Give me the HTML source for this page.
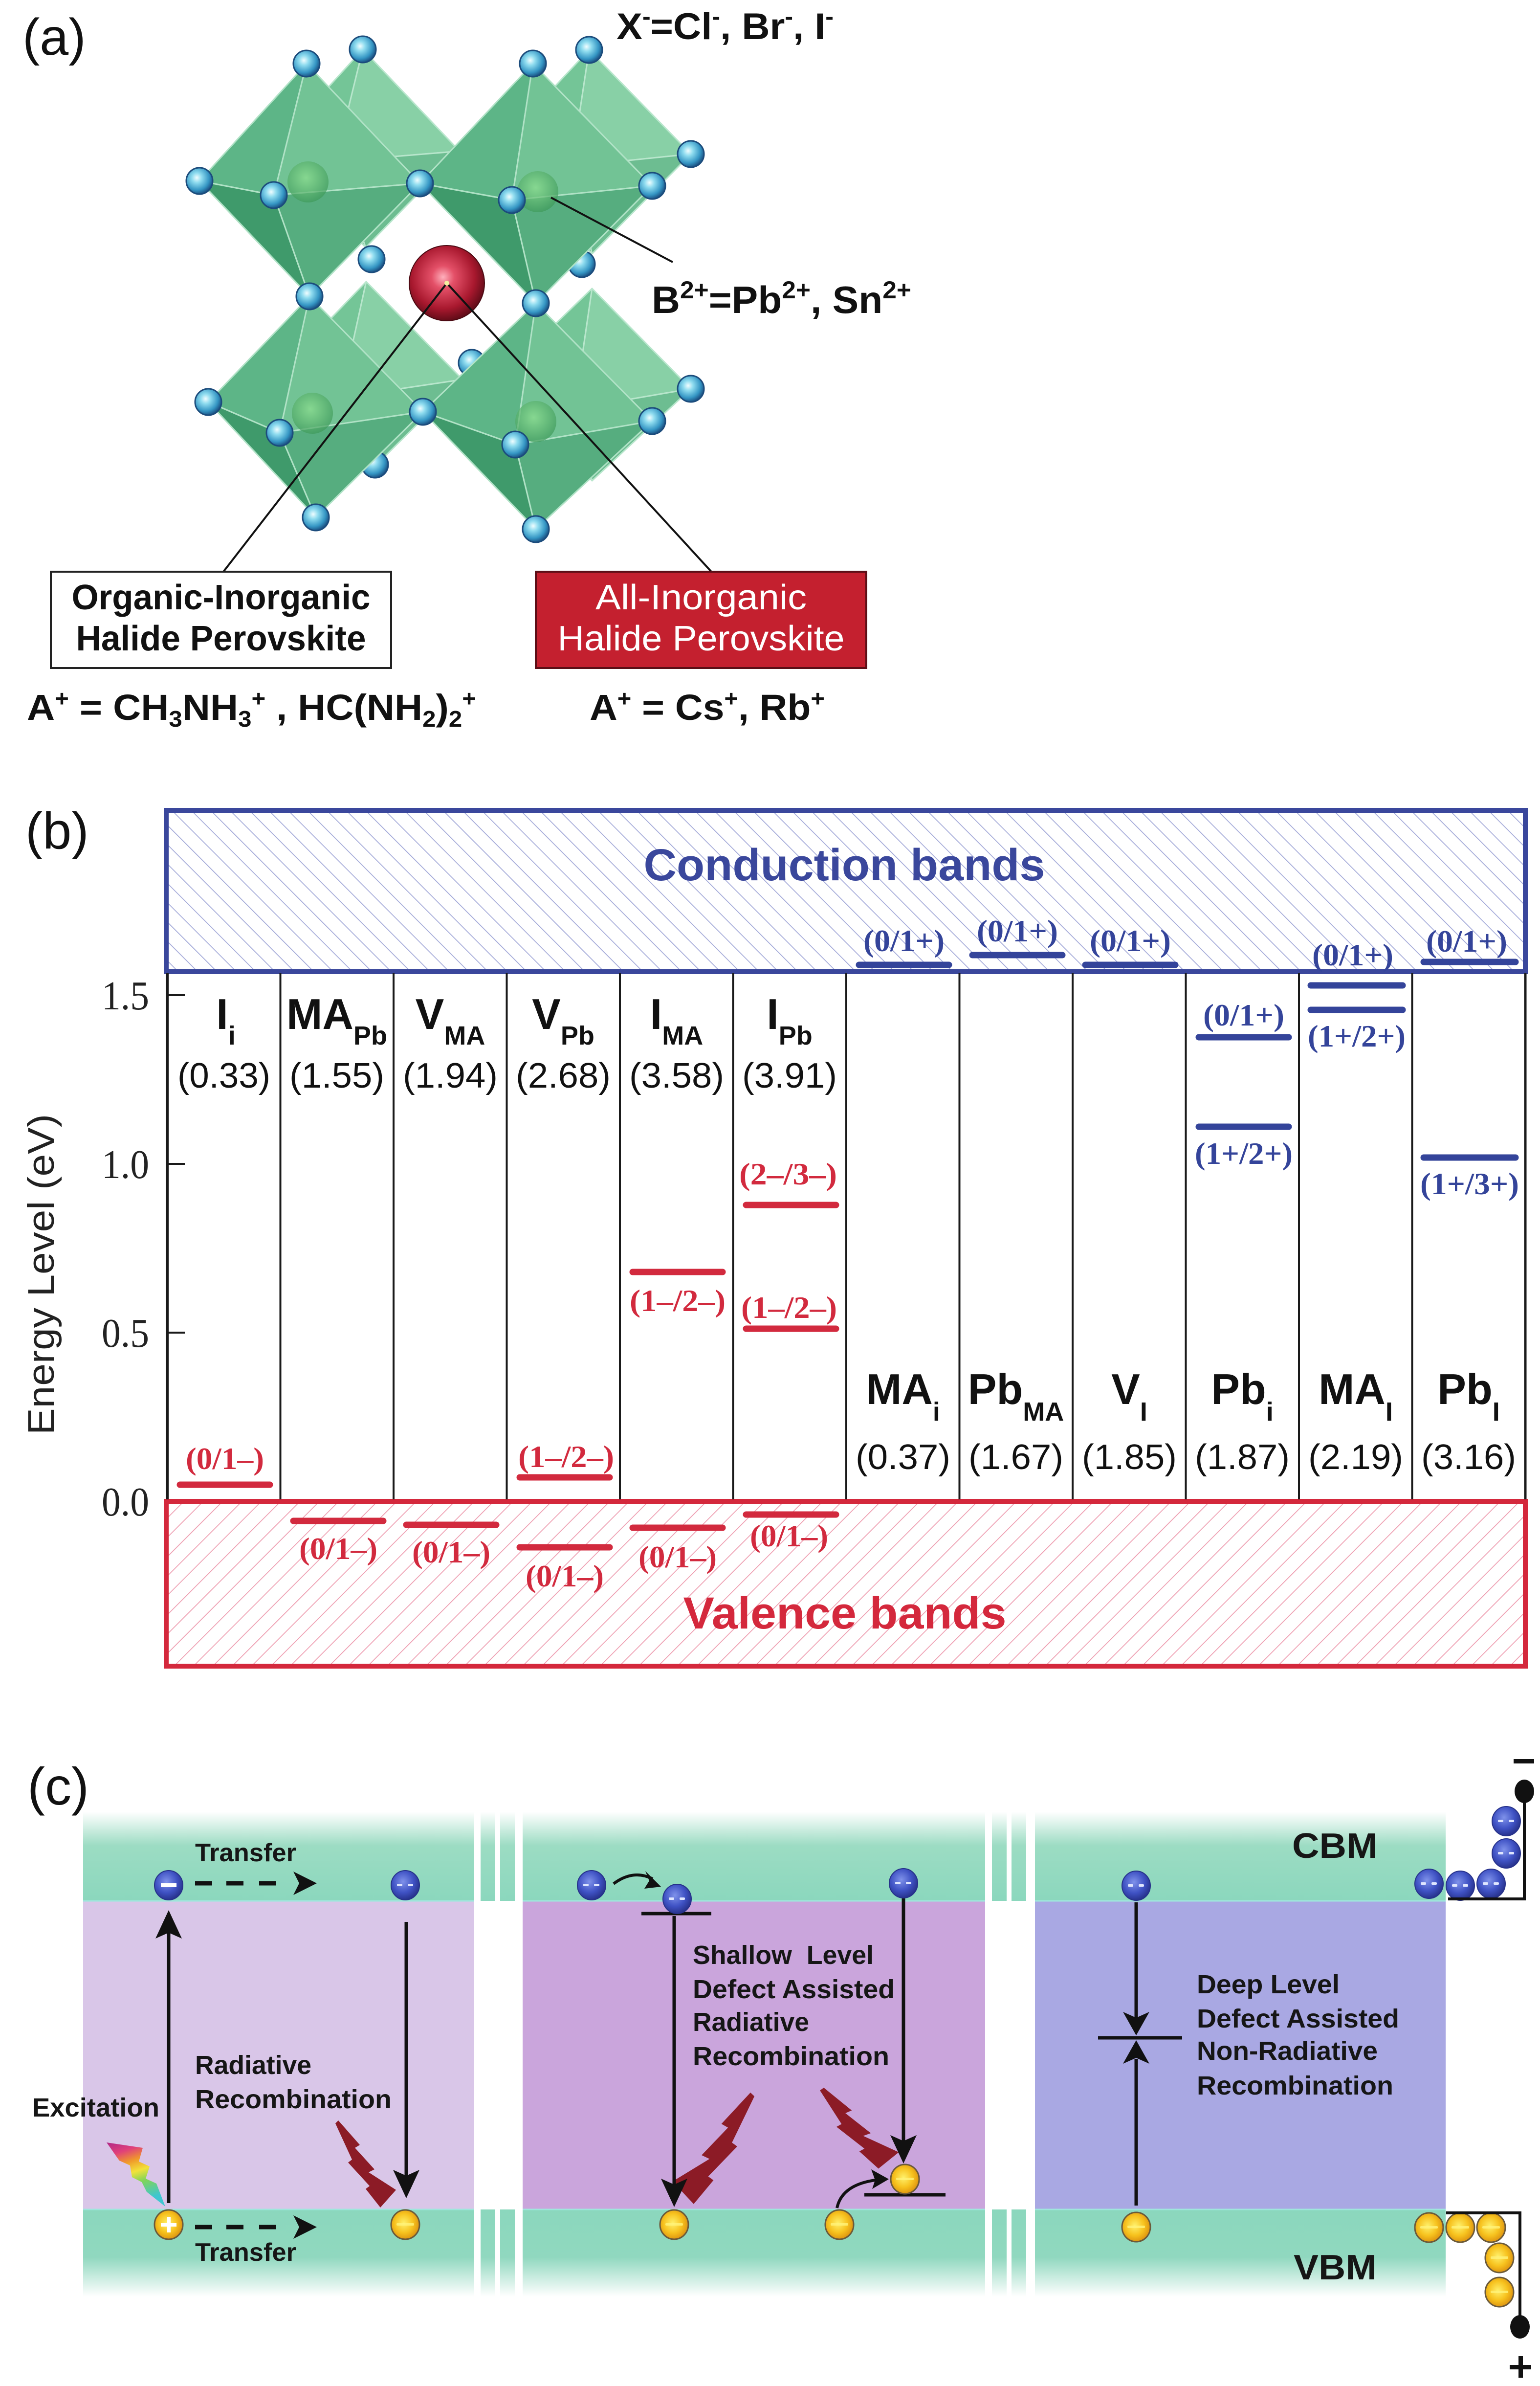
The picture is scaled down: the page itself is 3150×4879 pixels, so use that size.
<!DOCTYPE html>
<html><head><meta charset="utf-8">
<style>
html,body{margin:0;padding:0;background:#fff;}
svg{display:block;}
</style></head><body>
<svg xmlns="http://www.w3.org/2000/svg" width="3150" height="4879" viewBox="0 0 3150 4879">
<defs>
 <pattern id="hb" width="28" height="28" patternUnits="userSpaceOnUse" patternTransform="rotate(-45)">
   <line x1="0" y1="0" x2="0" y2="28" stroke="#a3a9d8" stroke-width="3.4"/>
 </pattern>
 <pattern id="hr" width="28" height="28" patternUnits="userSpaceOnUse" patternTransform="rotate(45)">
   <line x1="0" y1="0" x2="0" y2="28" stroke="#ee9db0" stroke-width="3.4"/>
 </pattern>
 <radialGradient id="xs" cx="0.4" cy="0.38" r="0.62">
   <stop offset="0" stop-color="#f0fdff"/><stop offset="0.3" stop-color="#8fdcef"/><stop offset="0.75" stop-color="#3596c4"/><stop offset="1" stop-color="#1d5688"/>
 </radialGradient>
 <radialGradient id="rs" cx="0.45" cy="0.42" r="0.6">
   <stop offset="0" stop-color="#ffb0bc"/><stop offset="0.25" stop-color="#e45068"/><stop offset="0.7" stop-color="#a8182e"/><stop offset="1" stop-color="#5a0b16"/>
 </radialGradient>
 <radialGradient id="gs" cx="0.45" cy="0.4" r="0.6">
   <stop offset="0" stop-color="#8fe08f"/><stop offset="1" stop-color="#3f9a5a"/>
 </radialGradient>
 <linearGradient id="cb" x1="0" y1="0" x2="0" y2="1">
   <stop offset="0" stop-color="#ffffff"/><stop offset="0.38" stop-color="#9cdcc3"/><stop offset="1" stop-color="#8bd7bd"/>
 </linearGradient>
 <linearGradient id="vb" x1="0" y1="0" x2="0" y2="1">
   <stop offset="0" stop-color="#8bd7bd"/><stop offset="0.55" stop-color="#90d8bf"/><stop offset="1" stop-color="#ffffff"/>
 </linearGradient>
 <radialGradient id="eg" cx="0.42" cy="0.38" r="0.62">
   <stop offset="0" stop-color="#7f92ea"/><stop offset="0.6" stop-color="#3f52c4"/><stop offset="1" stop-color="#28338e"/>
 </radialGradient>
 <radialGradient id="hg" cx="0.45" cy="0.45" r="0.6">
   <stop offset="0" stop-color="#fff06a"/><stop offset="0.55" stop-color="#f7c21e"/><stop offset="1" stop-color="#d98c0e"/>
 </radialGradient>
 <linearGradient id="rbw" x1="0" y1="0" x2="0.3" y2="1">
   <stop offset="0" stop-color="#b02888"/><stop offset="0.2" stop-color="#e0407a"/><stop offset="0.38" stop-color="#f09a2a"/><stop offset="0.55" stop-color="#f2e23a"/><stop offset="0.72" stop-color="#7fd45a"/><stop offset="1" stop-color="#3ec6d0"/>
 </linearGradient>
 <g id="el"><ellipse rx="29" ry="30" fill="url(#eg)" stroke="#26318a" stroke-width="2"/><rect x="-17" y="-3" width="11" height="5" rx="2" fill="#dfe6ff"/><rect x="5" y="-3" width="11" height="5" rx="2" fill="#dfe6ff"/></g>
 <g id="ho"><ellipse rx="29" ry="30" fill="url(#hg)" stroke="#6b5a3a" stroke-width="3"/><rect x="-18" y="-3" width="36" height="5" rx="2" fill="#fff27a" opacity="0.8"/></g>
 <path id="bolt" d="M-6,6 L0,0 L44,50 L34,56 L74,100 L62,106 L118,142 L86,178 L56,140 L64,134 L20,86 L28,80 Z"/>
 <g id="xa"><circle r="27" fill="url(#xs)" stroke="#1c4c7c" stroke-width="3"/></g>
</defs>

<rect x="0" y="0" width="3150" height="4879" fill="#fff"/>

<!-- ================= PANEL (a) ================= -->
<text x="46" y="112" font-family="Liberation Sans, sans-serif" font-size="106" fill="#111">(a)</text>

<g stroke="#b8e6cc" stroke-width="3" stroke-linejoin="round">
 <g>
  <polygon points="742,101 556,305 686,330" fill="#74c597"/>
  <polygon points="742,101 686,330 940,309" fill="#88d0a6"/>
  <polygon points="748,506 556,305 686,330" fill="#5caf82"/>
  <polygon points="748,506 686,330 940,309" fill="#6dbd91"/>
 </g>
 <g>
  <polygon points="1205,102 1009,311 1169,340" fill="#74c597"/>
  <polygon points="1205,102 1169,340 1413,315" fill="#88d0a6"/>
  <polygon points="1211,519 1009,311 1169,340" fill="#5caf82"/>
  <polygon points="1211,519 1169,340 1413,315" fill="#6dbd91"/>
 </g>
 <g>
  <polygon points="749,576 573,759 697,813" fill="#74c597"/>
  <polygon points="749,576 697,813 946,776" fill="#88d0a6"/>
  <polygon points="760,960 573,759 697,813" fill="#5caf82"/>
  <polygon points="760,960 697,813 946,776" fill="#6dbd91"/>
 </g>
 <g>
  <polygon points="1211,590 1015,779 1175,836" fill="#74c597"/>
  <polygon points="1211,590 1175,836 1413,795" fill="#88d0a6"/>
  <polygon points="1211,983 1015,779 1175,836" fill="#5caf82"/>
  <polygon points="1211,983 1175,836 1413,795" fill="#6dbd91"/>
 </g>
</g>
<use href="#xa" x="742" y="101"/>
<use href="#xa" x="1205" y="102"/>
<use href="#xa" x="1413" y="315"/>
<use href="#xa" x="760" y="530"/>
<use href="#xa" x="1190" y="540"/>
<use href="#xa" x="965" y="742"/>
<use href="#xa" x="1413" y="795"/>
<use href="#xa" x="767" y="950"/>

<g stroke="#b0e2c6" stroke-width="3" stroke-linejoin="round">
 <g>
  <polygon points="627,130 408,370 560,399" fill="#5db587"/>
  <polygon points="627,130 560,399 859,375" fill="#72c395"/>
  <polygon points="633,606 408,370 560,399" fill="#3f9a6b"/>
  <polygon points="633,606 560,399 859,375" fill="#56ad7f"/>
 </g>
 <g>
  <polygon points="1090,130 859,375 1047,409" fill="#5db587"/>
  <polygon points="1090,130 1047,409 1334,380" fill="#72c395"/>
  <polygon points="1096,620 859,375 1047,409" fill="#3f9a6b"/>
  <polygon points="1096,620 1047,409 1334,380" fill="#56ad7f"/>
 </g>
 <g>
  <polygon points="633,606 426,822 572,885" fill="#5db587"/>
  <polygon points="633,606 572,885 865,842" fill="#72c395"/>
  <polygon points="646,1058 426,822 572,885" fill="#3f9a6b"/>
  <polygon points="646,1058 572,885 865,842" fill="#56ad7f"/>
 </g>
 <g>
  <polygon points="1096,620 865,842 1054,909" fill="#5db587"/>
  <polygon points="1096,620 1054,909 1334,861" fill="#72c395"/>
  <polygon points="1096,1082 865,842 1054,909" fill="#3f9a6b"/>
  <polygon points="1096,1082 1054,909 1334,861" fill="#56ad7f"/>
 </g>
</g>
<g fill="url(#gs)" opacity="0.7">
 <circle cx="630" cy="372" r="42"/><circle cx="1100" cy="392" r="42"/>
 <circle cx="639" cy="845" r="42"/><circle cx="1096" cy="862" r="42"/>
</g>
<use href="#xa" x="627" y="130"/><use href="#xa" x="408" y="370"/><use href="#xa" x="560" y="399"/>
<use href="#xa" x="859" y="375"/><use href="#xa" x="633" y="606"/>
<use href="#xa" x="1090" y="130"/><use href="#xa" x="1047" y="409"/><use href="#xa" x="1334" y="380"/>
<use href="#xa" x="1096" y="620"/>
<use href="#xa" x="426" y="822"/><use href="#xa" x="572" y="885"/><use href="#xa" x="865" y="842"/>
<use href="#xa" x="646" y="1058"/>
<use href="#xa" x="1054" y="909"/><use href="#xa" x="1334" y="861"/><use href="#xa" x="1096" y="1082"/>

<circle cx="914" cy="579" r="77" fill="url(#rs)" stroke="#4a0a12" stroke-width="2"/>

<g stroke="#111" stroke-width="4" fill="none">
 <line x1="914" y1="579" x2="457" y2="1169"/>
 <line x1="914" y1="579" x2="1455" y2="1169"/>
 <line x1="1376" y1="536" x2="1127" y2="404"/>
</g>
<circle cx="914" cy="579" r="5" fill="#f2f0a0"/>

<g font-family="Liberation Sans, sans-serif" font-weight="bold" fill="#111">
 <text x="1261" y="80" font-size="76" textLength="444" lengthAdjust="spacingAndGlyphs">X<tspan dy="-30" font-size="48">-</tspan><tspan dy="30">=Cl</tspan><tspan dy="-30" font-size="48">-</tspan><tspan dy="30">, Br</tspan><tspan dy="-30" font-size="48">-</tspan><tspan dy="30">, I</tspan><tspan dy="-30" font-size="48">-</tspan></text>
 <text x="1333" y="640" font-size="78" textLength="531" lengthAdjust="spacingAndGlyphs">B<tspan dy="-30" font-size="50">2+</tspan><tspan dy="30">=Pb</tspan><tspan dy="-30" font-size="50">2+</tspan><tspan dy="30">, Sn</tspan><tspan dy="-30" font-size="50">2+</tspan></text>
</g>

<rect x="104" y="1169" width="696" height="197" fill="#fff" stroke="#222" stroke-width="4"/>
<rect x="1096" y="1169" width="676" height="197" fill="#c4202f" stroke="#5c0e16" stroke-width="4"/>
<g font-family="Liberation Sans, sans-serif" font-size="72" text-anchor="middle">
 <text x="452" y="1246" font-weight="bold" fill="#111" textLength="611" lengthAdjust="spacingAndGlyphs">Organic-Inorganic</text>
 <text x="452" y="1330" font-weight="bold" fill="#111" textLength="593" lengthAdjust="spacingAndGlyphs">Halide Perovskite</text>
 <text x="1434" y="1246" fill="#fff" textLength="432" lengthAdjust="spacingAndGlyphs">All-Inorganic</text>
 <text x="1434" y="1330" fill="#fff" textLength="587" lengthAdjust="spacingAndGlyphs">Halide Perovskite</text>
</g>
<g font-family="Liberation Sans, sans-serif" font-weight="bold" fill="#111" font-size="74">
 <text x="55" y="1472" textLength="919" lengthAdjust="spacingAndGlyphs">A<tspan dy="-28" font-size="46">+</tspan><tspan dy="28"> = CH</tspan><tspan dy="14" font-size="46">3</tspan><tspan dy="-14">NH</tspan><tspan dy="14" font-size="46">3</tspan><tspan dy="-42" font-size="46">+</tspan><tspan dy="28"> , HC(NH</tspan><tspan dy="14" font-size="46">2</tspan><tspan dy="-14">)</tspan><tspan dy="14" font-size="46">2</tspan><tspan dy="-42" font-size="46">+</tspan></text>
 <text x="1206" y="1472" textLength="481" lengthAdjust="spacingAndGlyphs">A<tspan dy="-28" font-size="46">+</tspan><tspan dy="28"> = Cs</tspan><tspan dy="-28" font-size="46">+</tspan><tspan dy="28">, Rb</tspan><tspan dy="-28" font-size="46">+</tspan></text>
</g>

<!-- ================= PANEL (b) ================= -->
<text x="52" y="1735" font-family="Liberation Sans, sans-serif" font-size="106" fill="#111">(b)</text>

<rect x="340" y="1657" width="2780" height="330" fill="#fff"/>
<rect x="340" y="1657" width="2780" height="330" fill="url(#hb)"/>
<rect x="340" y="1657" width="2780" height="330" fill="none" stroke="#3a479c" stroke-width="10"/>
<text x="1727" y="1800" text-anchor="middle" font-family="Liberation Sans, sans-serif" font-weight="bold" font-size="92" fill="#3a479c" textLength="821" lengthAdjust="spacingAndGlyphs">Conduction bands</text>

<rect x="340" y="3070" width="2780" height="337" fill="#fff"/>
<rect x="340" y="3070" width="2780" height="337" fill="url(#hr)"/>
<rect x="340" y="3070" width="2780" height="337" fill="none" stroke="#d4283c" stroke-width="10"/>
<text x="1728" y="3330" text-anchor="middle" font-family="Liberation Sans, sans-serif" font-weight="bold" font-size="92" fill="#d4283c" textLength="661" lengthAdjust="spacingAndGlyphs">Valence bands</text>

<g stroke="#1a1a1a" stroke-width="4">
 <line x1="342" y1="1990" x2="342" y2="3066" stroke-width="6"/>
 <line x1="573.5" y1="1990" x2="573.5" y2="3066"/>
 <line x1="805" y1="1990" x2="805" y2="3066"/>
 <line x1="1036.5" y1="1990" x2="1036.5" y2="3066"/>
 <line x1="1268" y1="1990" x2="1268" y2="3066"/>
 <line x1="1499.5" y1="1990" x2="1499.5" y2="3066"/>
 <line x1="1731" y1="1990" x2="1731" y2="3066"/>
 <line x1="1962.5" y1="1990" x2="1962.5" y2="3066"/>
 <line x1="2194" y1="1990" x2="2194" y2="3066"/>
 <line x1="2425.5" y1="1990" x2="2425.5" y2="3066"/>
 <line x1="2657" y1="1990" x2="2657" y2="3066"/>
 <line x1="2888.5" y1="1990" x2="2888.5" y2="3066"/>
 <line x1="3120" y1="1990" x2="3120" y2="3066" stroke-width="5"/>
 <line x1="342" y1="2035" x2="378" y2="2035"/>
 <line x1="342" y1="2380" x2="378" y2="2380"/>
 <line x1="342" y1="2725" x2="378" y2="2725"/>
</g>

<g font-family="Liberation Serif, serif" font-size="84" fill="#222" text-anchor="end">
 <text x="305" y="2064" textLength="97" lengthAdjust="spacingAndGlyphs">1.5</text>
 <text x="305" y="2409" textLength="97" lengthAdjust="spacingAndGlyphs">1.0</text>
 <text x="305" y="2754" textLength="97" lengthAdjust="spacingAndGlyphs">0.5</text>
 <text x="305" y="3099" textLength="97" lengthAdjust="spacingAndGlyphs">0.0</text>
</g>
<text transform="translate(110,2606) rotate(-90)" text-anchor="middle" font-family="Liberation Sans, sans-serif" font-size="76" fill="#222" textLength="656" lengthAdjust="spacingAndGlyphs">Energy Level (eV)</text>

<g font-family="Liberation Sans, sans-serif" font-weight="bold" font-size="88" fill="#111" text-anchor="middle">
 <text x="462" y="2104">I<tspan font-size="54" dy="32">i</tspan></text>
 <text x="689" y="2104">MA<tspan font-size="54" dy="32">Pb</tspan></text>
 <text x="921" y="2104">V<tspan font-size="54" dy="32">MA</tspan></text>
 <text x="1152" y="2104">V<tspan font-size="54" dy="32">Pb</tspan></text>
 <text x="1384" y="2104">I<tspan font-size="54" dy="32">MA</tspan></text>
 <text x="1615" y="2104">I<tspan font-size="54" dy="32">Pb</tspan></text>
 <text x="1847" y="2871">MA<tspan font-size="54" dy="34">i</tspan></text>
 <text x="2078" y="2871">Pb<tspan font-size="54" dy="34">MA</tspan></text>
 <text x="2310" y="2871">V<tspan font-size="54" dy="34">I</tspan></text>
 <text x="2541" y="2871">Pb<tspan font-size="54" dy="34">i</tspan></text>
 <text x="2773" y="2871">MA<tspan font-size="54" dy="34">I</tspan></text>
 <text x="3004" y="2871">Pb<tspan font-size="54" dy="34">I</tspan></text>
</g>
<g font-family="Liberation Sans, sans-serif" font-size="72" fill="#111" text-anchor="middle">
 <text x="458" y="2224" textLength="190" lengthAdjust="spacingAndGlyphs">(0.33)</text>
 <text x="689" y="2224" textLength="194" lengthAdjust="spacingAndGlyphs">(1.55)</text>
 <text x="921" y="2224" textLength="194" lengthAdjust="spacingAndGlyphs">(1.94)</text>
 <text x="1152" y="2224" textLength="194" lengthAdjust="spacingAndGlyphs">(2.68)</text>
 <text x="1384" y="2224" textLength="194" lengthAdjust="spacingAndGlyphs">(3.58)</text>
 <text x="1615" y="2224" textLength="194" lengthAdjust="spacingAndGlyphs">(3.91)</text>
 <text x="1847" y="3004" textLength="194" lengthAdjust="spacingAndGlyphs">(0.37)</text>
 <text x="2078" y="3004" textLength="194" lengthAdjust="spacingAndGlyphs">(1.67)</text>
 <text x="2310" y="3004" textLength="194" lengthAdjust="spacingAndGlyphs">(1.85)</text>
 <text x="2541" y="3004" textLength="194" lengthAdjust="spacingAndGlyphs">(1.87)</text>
 <text x="2773" y="3004" textLength="194" lengthAdjust="spacingAndGlyphs">(2.19)</text>
 <text x="3004" y="3004" textLength="194" lengthAdjust="spacingAndGlyphs">(3.16)</text>
</g>

<g stroke="#d22a3e" stroke-width="13" stroke-linecap="round">
 <line x1="368" y1="3036" x2="552" y2="3036"/>
 <line x1="600" y1="3110" x2="784" y2="3110"/>
 <line x1="831" y1="3118" x2="1015" y2="3118"/>
 <line x1="1063" y1="3021" x2="1247" y2="3021"/>
 <line x1="1063" y1="3164" x2="1247" y2="3164"/>
 <line x1="1294" y1="2601" x2="1478" y2="2601"/>
 <line x1="1294" y1="3124" x2="1478" y2="3124"/>
 <line x1="1526" y1="2464" x2="1710" y2="2464"/>
 <line x1="1526" y1="2717" x2="1710" y2="2717"/>
 <line x1="1526" y1="3097" x2="1710" y2="3097"/>
</g>
<g font-family="Liberation Serif, serif" font-weight="bold" font-size="64" fill="#d22a3e" text-anchor="middle">
 <text x="460" y="3004" textLength="160" lengthAdjust="spacingAndGlyphs">(0/1–)</text>
 <text x="692" y="3188" textLength="160" lengthAdjust="spacingAndGlyphs">(0/1–)</text>
 <text x="923" y="3195" textLength="160" lengthAdjust="spacingAndGlyphs">(0/1–)</text>
 <text x="1158" y="3000" textLength="196" lengthAdjust="spacingAndGlyphs">(1–/2–)</text>
 <text x="1155" y="3244" textLength="160" lengthAdjust="spacingAndGlyphs">(0/1–)</text>
 <text x="1386" y="2681" textLength="196" lengthAdjust="spacingAndGlyphs">(1–/2–)</text>
 <text x="1386" y="3205" textLength="160" lengthAdjust="spacingAndGlyphs">(0/1–)</text>
 <text x="1612" y="2422" textLength="200" lengthAdjust="spacingAndGlyphs">(2–/3–)</text>
 <text x="1614" y="2695" textLength="196" lengthAdjust="spacingAndGlyphs">(1–/2–)</text>
 <text x="1614" y="3162" textLength="160" lengthAdjust="spacingAndGlyphs">(0/1–)</text>
</g>

<g stroke="#34449a" stroke-width="13" stroke-linecap="round">
 <line x1="1757" y1="1973" x2="1941" y2="1973"/>
 <line x1="1989" y1="1953" x2="2173" y2="1953"/>
 <line x1="2220" y1="1973" x2="2404" y2="1973"/>
 <line x1="2452" y1="2121" x2="2636" y2="2121"/>
 <line x1="2452" y1="2304" x2="2636" y2="2304"/>
 <line x1="2681" y1="2015" x2="2869" y2="2015"/>
 <line x1="2681" y1="2065" x2="2869" y2="2065"/>
 <line x1="2912" y1="1967" x2="3100" y2="1967"/>
 <line x1="2912" y1="2367" x2="3100" y2="2367"/>
</g>
<g font-family="Liberation Serif, serif" font-weight="bold" font-size="64" fill="#34449a" text-anchor="middle">
 <text x="1849" y="1945" textLength="166" lengthAdjust="spacingAndGlyphs">(0/1+)</text>
 <text x="2081" y="1925" textLength="166" lengthAdjust="spacingAndGlyphs">(0/1+)</text>
 <text x="2312" y="1945" textLength="166" lengthAdjust="spacingAndGlyphs">(0/1+)</text>
 <text x="2544" y="2097" textLength="166" lengthAdjust="spacingAndGlyphs">(0/1+)</text>
 <text x="2544" y="2380" textLength="200" lengthAdjust="spacingAndGlyphs">(1+/2+)</text>
 <text x="2767" y="1974" textLength="166" lengthAdjust="spacingAndGlyphs">(0/1+)</text>
 <text x="2775" y="2140" textLength="200" lengthAdjust="spacingAndGlyphs">(1+/2+)</text>
 <text x="3000" y="1946" textLength="166" lengthAdjust="spacingAndGlyphs">(0/1+)</text>
 <text x="3006" y="2442" textLength="202" lengthAdjust="spacingAndGlyphs">(1+/3+)</text>
</g>

<!-- ================= PANEL (c) ================= -->
<text x="56" y="3690" font-family="Liberation Sans, sans-serif" font-size="108" fill="#111">(c)</text>

<rect x="170" y="3886" width="800" height="633" fill="#d9c6e8"/>
<rect x="1069" y="3886" width="946" height="633" fill="#caa5dc"/>
<rect x="2117" y="3886" width="840" height="633" fill="#a9a8e3"/>

<g fill="url(#cb)">
 <rect x="170" y="3705" width="800" height="182"/>
 <rect x="983" y="3705" width="30" height="182"/>
 <rect x="1023" y="3705" width="30" height="182"/>
 <rect x="1069" y="3705" width="946" height="182"/>
 <rect x="2029" y="3705" width="30" height="182"/>
 <rect x="2069" y="3705" width="30" height="182"/>
 <rect x="2117" y="3705" width="840" height="182"/>
</g>
<g fill="url(#vb)">
 <rect x="170" y="4518" width="800" height="178"/>
 <rect x="983" y="4518" width="30" height="178"/>
 <rect x="1023" y="4518" width="30" height="178"/>
 <rect x="1069" y="4518" width="946" height="178"/>
 <rect x="2029" y="4518" width="30" height="178"/>
 <rect x="2069" y="4518" width="30" height="178"/>
 <rect x="2117" y="4518" width="840" height="178"/>
</g>
<g stroke="#9ee6dc" stroke-width="3">
 <line x1="170" y1="3887" x2="970" y2="3887"/><line x1="1069" y1="3887" x2="2015" y2="3887"/><line x1="2117" y1="3887" x2="2957" y2="3887"/>
 <line x1="170" y1="4518" x2="970" y2="4518"/><line x1="1069" y1="4518" x2="2015" y2="4518"/><line x1="2117" y1="4518" x2="2957" y2="4518"/>
</g>

<g fill="#8c1b26">
 <use href="#bolt" transform="translate(692,4336)"/>
 <use href="#bolt" transform="translate(1535,4279) scale(-1.35,1.28)"/>
 <use href="#bolt" transform="translate(1685,4269) scale(1.3,0.93)"/>
</g>
<polygon points="218,4381 292,4392 284,4420 306,4430 298,4455 320,4465 338,4512 300,4482 290,4462 270,4452 266,4428 244,4418" fill="url(#rbw)"/>

<g stroke="#111" stroke-width="7" fill="none">
 <line x1="345" y1="4505" x2="345" y2="3950"/>
 <line x1="831" y1="3930" x2="831" y2="4455"/>
 <line x1="1379" y1="3918" x2="1379" y2="4470"/>
 <line x1="1848" y1="3882" x2="1848" y2="4385"/>
 <line x1="2324" y1="3890" x2="2324" y2="4128"/>
 <line x1="2324" y1="4510" x2="2324" y2="4210"/>
 <line x1="1312" y1="3913" x2="1455" y2="3913"/>
 <line x1="1768" y1="4488" x2="1934" y2="4488"/>
 <line x1="2246" y1="4167" x2="2418" y2="4167"/>
 <path d="M1255,3852 Q1295,3822 1335,3842" stroke-width="6"/>
 <path d="M1712,4515 Q1722,4468 1790,4458" stroke-width="6"/>
 <g stroke-width="9">
  <line x1="399" y1="3851" x2="434" y2="3851"/><line x1="463" y1="3851" x2="498" y2="3851"/><line x1="530" y1="3851" x2="565" y2="3851"/>
  <line x1="399" y1="4554" x2="434" y2="4554"/><line x1="463" y1="4554" x2="498" y2="4554"/><line x1="530" y1="4554" x2="565" y2="4554"/>
 </g>
</g>
<g fill="#111">
 <polygon points="345,3906 372,3964 345,3952 318,3964"/>
 <polygon points="831,4495 804,4437 831,4449 858,4437"/>
 <polygon points="1379,4513 1352,4455 1379,4467 1406,4455"/>
 <polygon points="1848,4424 1821,4366 1848,4378 1875,4366"/>
 <polygon points="2324,4162 2297,4114 2324,4126 2351,4114"/>
 <polygon points="2324,4172 2297,4220 2324,4208 2351,4220"/>
 <polygon points="648,3851 600,3827 612,3851 600,3875"/>
 <polygon points="648,4554 600,4530 612,4554 600,4578"/>
 <polygon points="1352,3858 1320,3826 1328,3846 1318,3862"/>
 <polygon points="1818,4456 1782,4436 1790,4458 1784,4476"/>
</g>

<g>
 <g transform="translate(345,3855)"><ellipse rx="29" ry="30" fill="url(#eg)" stroke="#26318a" stroke-width="2"/><rect x="-16" y="-4" width="32" height="8" fill="#fff"/></g>
 <use href="#el" x="829" y="3855"/>
 <use href="#el" x="1210" y="3855"/>
 <use href="#el" x="1385" y="3883"/>
 <use href="#el" x="1848" y="3851"/>
 <use href="#el" x="2324" y="3856"/>
 <use href="#el" x="2923" y="3852"/>
 <use href="#el" x="2987" y="3856"/>
 <use href="#el" x="3050" y="3852"/>
 <use href="#el" x="3081" y="3790"/>
 <use href="#el" x="3081" y="3724"/>
</g>
<g>
 <g transform="translate(345,4549)"><ellipse rx="29" ry="30" fill="url(#hg)" stroke="#6b5a3a" stroke-width="3"/><rect x="-16" y="-3" width="32" height="7" fill="#fff"/><rect x="-3" y="-16" width="7" height="32" fill="#fff"/></g>
 <use href="#ho" x="829" y="4549"/>
 <use href="#ho" x="1379" y="4549"/>
 <use href="#ho" x="1717" y="4549"/>
 <use href="#ho" x="1851" y="4456"/>
 <use href="#ho" x="2324" y="4554"/>
 <use href="#ho" x="2923" y="4555"/>
 <use href="#ho" x="2987" y="4555"/>
 <use href="#ho" x="3050" y="4555"/>
 <use href="#ho" x="3067" y="4617"/>
 <use href="#ho" x="3067" y="4687"/>
</g>

<g stroke="#111" stroke-width="6" fill="none">
 <polyline points="2962,3883 3118,3883 3118,3665"/>
 <polyline points="2958,4525 3109,4525 3109,4756"/>
</g>
<ellipse cx="3118" cy="3663" rx="20" ry="24" fill="#111"/>
<ellipse cx="3109" cy="4758" rx="20" ry="24" fill="#111"/>
<rect x="3096" y="3597" width="42" height="9" fill="#111"/>
<rect x="3088" y="4836" width="44" height="9" fill="#111"/>
<rect x="3106" y="4818" width="9" height="44" fill="#111"/>

<g font-family="Liberation Sans, sans-serif" font-weight="bold" fill="#161616">
 <text x="399" y="3806" font-size="52" textLength="207" lengthAdjust="spacingAndGlyphs">Transfer</text>
 <text x="399" y="4623" font-size="52" textLength="207" lengthAdjust="spacingAndGlyphs">Transfer</text>
 <text x="399" y="4241" font-size="54" textLength="238" lengthAdjust="spacingAndGlyphs">Radiative</text>
 <text x="399" y="4311" font-size="54" textLength="402" lengthAdjust="spacingAndGlyphs">Recombination</text>
 <text x="66" y="4328" font-size="54" textLength="260" lengthAdjust="spacingAndGlyphs">Excitation</text>
 <text x="1417" y="4016" font-size="54" textLength="370" lengthAdjust="spacingAndGlyphs">Shallow&#160;&#160;Level</text>
 <text x="1417" y="4086" font-size="54" textLength="413" lengthAdjust="spacingAndGlyphs">Defect Assisted</text>
 <text x="1417" y="4153" font-size="54" textLength="238" lengthAdjust="spacingAndGlyphs">Radiative</text>
 <text x="1417" y="4223" font-size="54" textLength="402" lengthAdjust="spacingAndGlyphs">Recombination</text>
 <text x="2448" y="4076" font-size="54" textLength="292" lengthAdjust="spacingAndGlyphs">Deep Level</text>
 <text x="2448" y="4146" font-size="54" textLength="414" lengthAdjust="spacingAndGlyphs">Defect Assisted</text>
 <text x="2448" y="4212" font-size="54" textLength="370" lengthAdjust="spacingAndGlyphs">Non-Radiative</text>
 <text x="2448" y="4283" font-size="54" textLength="402" lengthAdjust="spacingAndGlyphs">Recombination</text>
 <text x="2643" y="3799" font-size="72" textLength="175" lengthAdjust="spacingAndGlyphs">CBM</text>
 <text x="2646" y="4661" font-size="72" textLength="170" lengthAdjust="spacingAndGlyphs">VBM</text>
</g>
</svg>
</body></html>
